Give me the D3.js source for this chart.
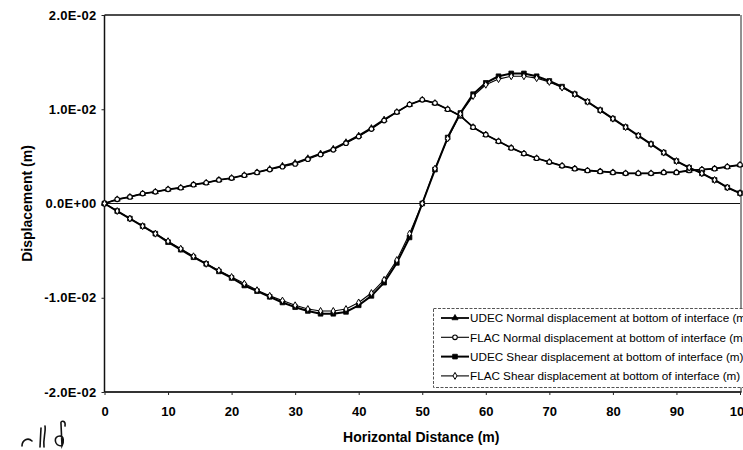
<!DOCTYPE html>
<html>
<head>
<meta charset="utf-8">
<script src="https://cdn.jsdelivr.net/npm/d3@7/dist/d3.min.js"></script>
<style>
  html, body { margin: 0; padding: 0; background: #fff; }
  svg { display: block; }
  text { font-family: Arial, "Liberation Sans", sans-serif; fill: #000; }
</style>
</head>
<body>
<svg id="chart" width="743" height="450"></svg>
<script>
// Horizontal distance along the interface (m)
const distance = d3.range(0, 101, 2);

// Normal displacement at bottom of interface (m)
const udecNormal = [
  0, 0.00044, 0.0007, 0.00105, 0.00124, 0.0015, 0.00167, 0.002, 0.0022, 0.0025,
  0.0027, 0.003, 0.0033, 0.00365, 0.004, 0.0043, 0.0048, 0.0053, 0.0058, 0.0065,
  0.0072, 0.008, 0.0089, 0.0097, 0.0105, 0.011, 0.01065, 0.01, 0.0093, 0.0081,
  0.0073, 0.0066, 0.0059, 0.0053, 0.0048, 0.0044, 0.004, 0.0037, 0.0035, 0.0034,
  0.0033, 0.0032, 0.0032, 0.0032, 0.0033, 0.0033, 0.0035, 0.0036, 0.0037, 0.0039,
  0.0041
];
const flacNormal = [
  0, 0.00044, 0.0007, 0.00105, 0.00124, 0.0015, 0.00167, 0.002, 0.0022, 0.0025,
  0.0027, 0.003, 0.0033, 0.0036, 0.0039, 0.0042, 0.0047, 0.0052, 0.0057, 0.0064,
  0.0071, 0.0079, 0.0088, 0.0097, 0.0105, 0.011, 0.01065, 0.01, 0.0093, 0.0081,
  0.0073, 0.0066, 0.0059, 0.0053, 0.0048, 0.0044, 0.004, 0.0037, 0.0035, 0.0034,
  0.0033, 0.0032, 0.0032, 0.0032, 0.0033, 0.0033, 0.0035, 0.0036, 0.0037, 0.0039,
  0.0041
];

// Shear displacement at bottom of interface (m)
const udecShear = [
  0, -0.0008, -0.0016, -0.0024, -0.0032, -0.0041, -0.0049, -0.0057, -0.0064, -0.0072,
  -0.0079, -0.0087, -0.0093, -0.0099, -0.0105, -0.011, -0.0114, -0.0117, -0.0117, -0.0115,
  -0.0108, -0.0098, -0.0084, -0.0063, -0.0036, 0, 0.0036, 0.007, 0.0096, 0.0116,
  0.0128, 0.0135, 0.0138, 0.0138, 0.0135, 0.013, 0.0124, 0.0116, 0.0108, 0.0099,
  0.009, 0.0081, 0.0072, 0.0063, 0.0054, 0.0045, 0.0038, 0.0032, 0.0025, 0.0017,
  0.0011
];
const flacShear = [
  0, -0.0008, -0.0016, -0.0024, -0.0032, -0.004, -0.0048, -0.0056, -0.0064, -0.0071,
  -0.0078, -0.0085, -0.0092, -0.0098, -0.0103, -0.0108, -0.0112, -0.0114, -0.0114, -0.0112,
  -0.0105, -0.0095, -0.0081, -0.006, -0.0032, 0, 0.0037, 0.0069, 0.0095, 0.0114,
  0.0126, 0.0132, 0.0135, 0.0135, 0.0133, 0.0129, 0.0123, 0.0116, 0.0108, 0.0099,
  0.009, 0.0081, 0.0072, 0.0063, 0.0054, 0.0045, 0.0038, 0.0032, 0.0025, 0.0017,
  0.0011
];

const seriesNames = [
  "UDEC Normal displacement at bottom of interface (m)",
  "FLAC Normal displacement at bottom of interface (m)",
  "UDEC Shear displacement at bottom of interface (m)",
  "FLAC Shear displacement at bottom of interface (m)"
];

const xTicks = [0, 10, 20, 30, 40, 50, 60, 70, 80, 90, 100];
const yTicks = [-0.02, -0.01, 0, 0.01, 0.02];
const yTickLabels = ["-2.0E-02", "-1.0E-02", "0.0E+00", "1.0E-02", "2.0E-02"];

const svg = d3.select("#chart");

const x = d3.scaleLinear().domain([0, 100]).range([104.5, 740]);
const y = d3.scaleLinear().domain([-0.02, 0.02]).range([392, 15]);

// Plot frame
const plot = svg.append("g");
plot.append("line")
  .attr("x1", x(0)).attr("x2", x(100)).attr("y1", y(0.02)).attr("y2", y(0.02))
  .attr("stroke", "#111").attr("stroke-width", 1.3);
plot.append("line")
  .attr("x1", x(100) + 1).attr("x2", x(100) + 1).attr("y1", y(0.02)).attr("y2", y(-0.02))
  .attr("stroke", "#222").attr("stroke-width", 1);
plot.append("line")
  .attr("x1", x(0)).attr("x2", x(100) + 1.5).attr("y1", y(-0.02)).attr("y2", y(-0.02))
  .attr("stroke", "#333").attr("stroke-width", 2);
plot.append("line")
  .attr("x1", x(0)).attr("x2", x(0)).attr("y1", y(0.02)).attr("y2", y(-0.02))
  .attr("stroke", "#111").attr("stroke-width", 1.5);
// zero line
plot.append("line")
  .attr("x1", x(0)).attr("x2", x(100)).attr("y1", y(0)).attr("y2", y(0))
  .attr("stroke", "#111").attr("stroke-width", 1);

// Axes
const yAxis = d3.axisLeft(y).tickValues(yTicks)
  .tickFormat((d, i) => yTickLabels[i]).tickSize(3).tickPadding(5);
const gy = svg.append("g").attr("transform", `translate(${x(0)},0)`).call(yAxis);
gy.select(".domain").remove();
gy.selectAll(".tick line").attr("stroke", "#222");
gy.selectAll(".tick text")
  .style("font-size", "13px").style("font-weight", "bold").style("letter-spacing", "0.3px")
  .attr("font-family", "Arial, 'Liberation Sans', sans-serif");

const xAxis = d3.axisBottom(x).tickValues(xTicks).tickSize(3).tickPadding(12);
const gx = svg.append("g").attr("transform", `translate(0,${y(-0.02)})`).call(xAxis);
gx.select(".domain").remove();
gx.selectAll(".tick line").attr("stroke", "#222");
gx.selectAll(".tick text")
  .style("font-size", "13px").style("font-weight", "bold")
  .attr("font-family", "Arial, 'Liberation Sans', sans-serif");

// Axis titles
svg.append("text")
  .attr("x", (x(0) + x(100)) / 2 - 1).attr("y", 442)
  .attr("text-anchor", "middle")
  .style("font-size", "14px").style("font-weight", "bold")
  .text("Horizontal Distance (m)");
svg.append("text")
  .attr("transform", `translate(32,${y(0)}) rotate(-90)`)
  .attr("text-anchor", "middle")
  .style("font-size", "14px").style("font-weight", "bold")
  .text("Displacement (m)");

// Series
const line = d3.line().x(d => x(d[0])).y(d => y(d[1]));
const pts = vals => distance.map((d, i) => [d, vals[i]]);

const triangle = d3.symbol().type(d3.symbolTriangle).size(16);
const square = d3.symbol().type(d3.symbolSquare).size(22);
const diamond = d3.symbol().type(d3.symbolDiamond).size(14);

const series = [
  { name: seriesNames[0], data: pts(udecNormal), width: 1.8, sym: triangle, fill: "#000", stroke: "#000", sw: 0.8 },
  { name: seriesNames[1], data: pts(flacNormal), width: 1.1, sym: null, fill: "#fff", stroke: "#000", sw: 1.1 },
  { name: seriesNames[2], data: pts(udecShear), width: 2.0, sym: square, fill: "#000", stroke: "#000", sw: 0.8 },
  { name: seriesNames[3], data: pts(flacShear), width: 1.1, sym: diamond, fill: "#fff", stroke: "#000", sw: 1 }
];

function drawMarker(g, s, px, py) {
  if (s.sym) {
    g.append("path").attr("d", s.sym())
      .attr("transform", `translate(${px},${py})`)
      .attr("fill", s.fill).attr("stroke", s.stroke).attr("stroke-width", s.sw);
  } else {
    g.append("circle").attr("cx", px).attr("cy", py).attr("r", 2.3)
      .attr("fill", s.fill).attr("stroke", s.stroke).attr("stroke-width", s.sw);
  }
}

series.forEach(s => {
  svg.append("path").datum(s.data)
    .attr("d", line).attr("fill", "none")
    .attr("stroke", "#000").attr("stroke-width", s.width)
    .attr("stroke-linejoin", "round");
});
series.forEach(s => {
  const g = svg.append("g");
  s.data.forEach(d => drawMarker(g, s, x(d[0]), y(d[1])));
});

// Legend
const legend = svg.append("g");
legend.append("rect")
  .attr("x", 433.5).attr("y", 308.5).attr("width", 330).attr("height", 79)
  .attr("fill", "#fff").attr("stroke", "#555").attr("stroke-width", 1)
  .attr("stroke-dasharray", "3,1.5");
series.forEach((s, i) => {
  const ly = 318 + i * 19.3;
  legend.append("line")
    .attr("x1", 441).attr("x2", 469).attr("y1", ly).attr("y2", ly)
    .attr("stroke", "#000").attr("stroke-width", s.width);
  drawMarker(legend, s, 455, ly);
  legend.append("text")
    .attr("x", 470).attr("y", ly + 4.3)
    .style("font-size", "11.7px")
    .text(s.name);
});

// Handwritten initials in the lower-left margin
svg.append("path")
  .attr("d", "M22,446 C22,440 28,437 32,441 M40,447 L41,428 M44,447 C43,438 46,432 45,426 " +
             "M62,446 C54,446 53,436 60,436 C64,436 64,442 62,446 L61,424 C60,420 66,420 65,426")
  .attr("fill", "none").attr("stroke", "#111").attr("stroke-width", 1.6)
  .attr("stroke-linecap", "round");
</script>
</body>
</html>
